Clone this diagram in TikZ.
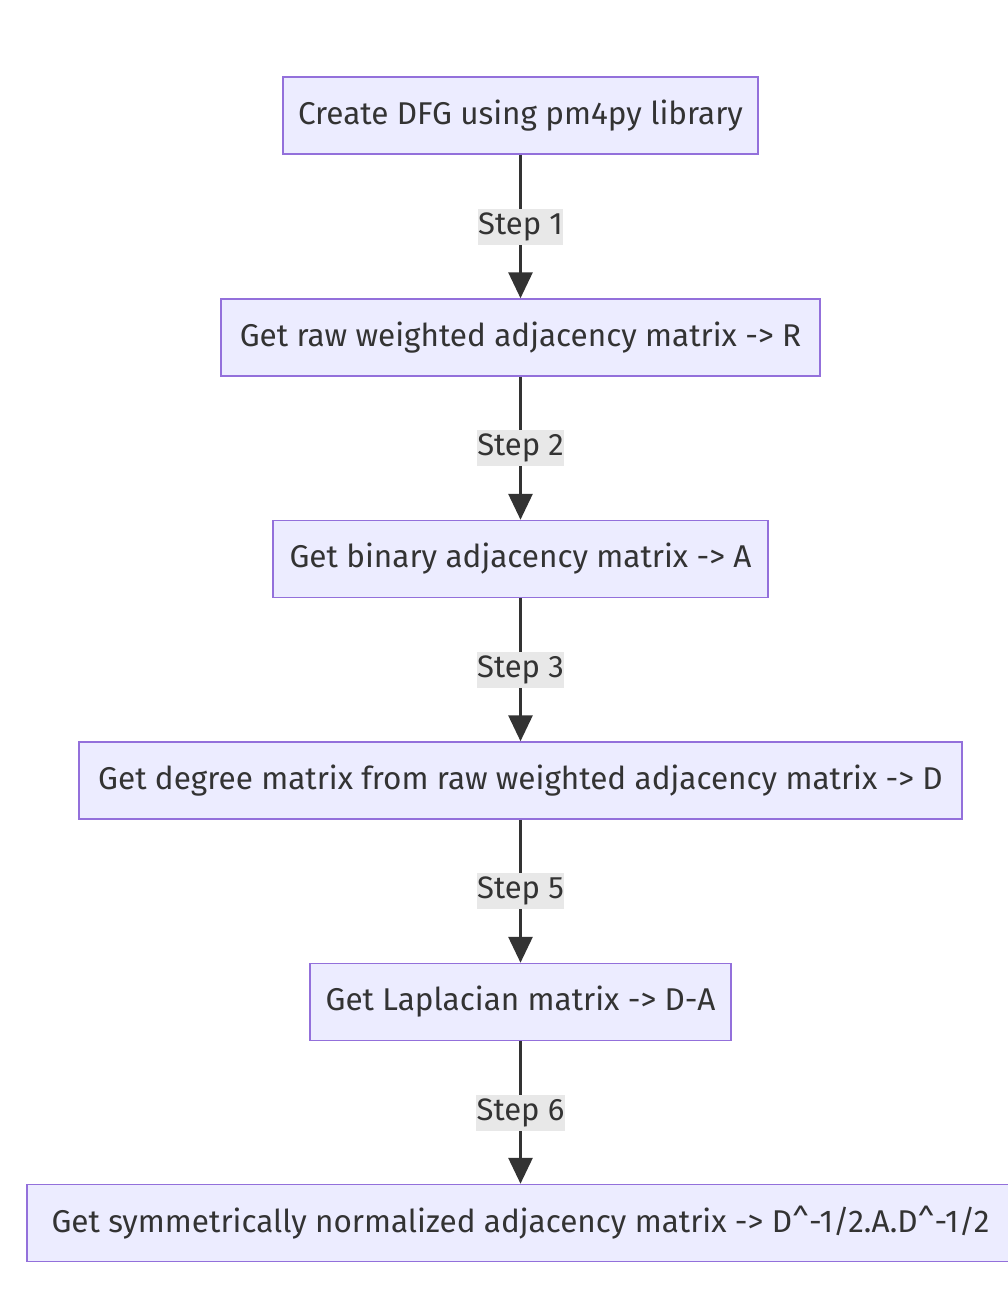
\documentclass[tikz,border=0pt]{standalone}
\usepackage{fontspec}
\setmainfont{Fira Sans}
\usetikzlibrary{arrows.meta}
\definecolor{boxfill}{HTML}{ECECFF}
\definecolor{boxline}{HTML}{9370DB}
\definecolor{ink}{HTML}{333333}
\definecolor{lblfill}{HTML}{E8E8E8}
\begin{document}
\begin{tikzpicture}[x=1pt,y=1pt,
  stepbox/.style={draw=boxline, fill=boxfill, line width=1.5pt, text=ink,
    minimum height=77pt, inner sep=0pt, font=\fontsize{31.5}{36}\selectfont},
  steplabel/.style={fill=lblfill, text=ink, inner xsep=0.5pt, inner ysep=0pt,
    minimum height=36pt, font=\fontsize{31}{36}\selectfont},
  flow/.style={draw=ink, line width=3pt, -{Triangle[length=26pt,width=24pt]}}]
\useasboundingbox[fill=white] (0,0) rectangle (1008,-1310);
\node[stepbox, minimum width=475pt] (n1) at (520.5,-115.5) {Create DFG using pm4py library};
\node[stepbox, minimum width=599pt] (n2) at (520.5,-337.5) {Get raw weighted adjacency matrix -> R};
\node[stepbox, minimum width=495pt] (n3) at (520.5,-559) {Get binary adjacency matrix -> A};
\node[stepbox, minimum width=883pt] (n4) at (520.5,-780.5) {Get degree matrix from raw weighted adjacency matrix -> D};
\node[stepbox, minimum width=421pt] (n5) at (520.5,-1002) {Get Laplacian matrix -> D-A};
\node[stepbox, minimum width=987pt] (n6) at (520.5,-1223) {Get symmetrically normalized adjacency matrix -> D\^{}-1/2.A.D\^{}-1/2};
\draw[flow] (n1) -- node[steplabel]{Step 1} (n2);
\draw[flow] (n2) -- node[steplabel]{Step 2} (n3);
\draw[flow] (n3) -- node[steplabel]{Step 3} (n4);
\draw[flow] (n4) -- node[steplabel]{Step 5} (n5);
\draw[flow] (n5) -- node[steplabel]{Step 6} (n6);
\end{tikzpicture}
\end{document}
